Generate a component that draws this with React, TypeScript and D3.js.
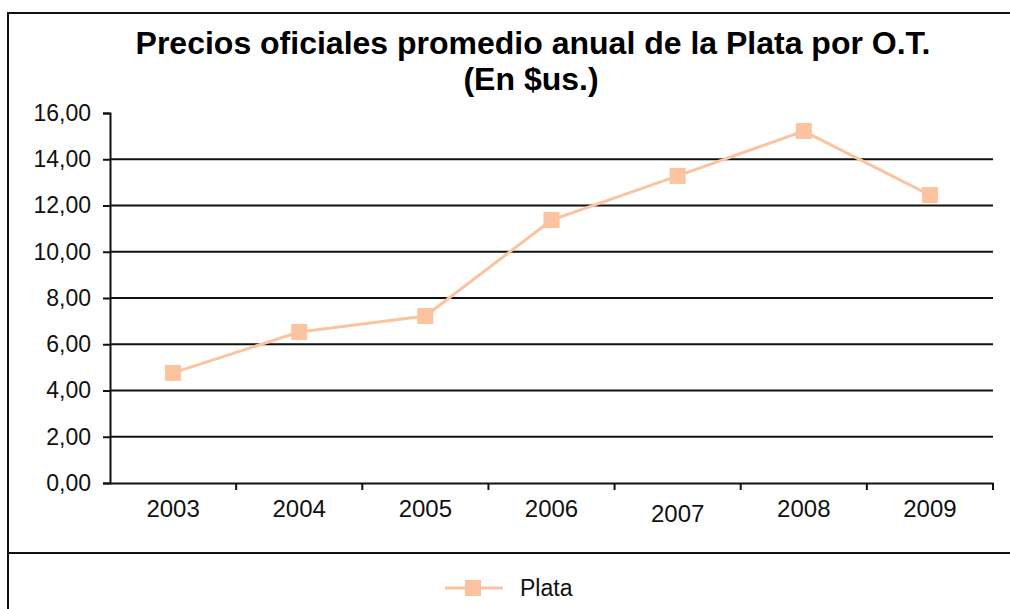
import * as d3 from "d3";
import { useEffect, useRef } from "react";

const years = ["2003", "2004", "2005", "2006", "2007", "2008", "2009"];
const plata = [4.76, 6.53, 7.22, 11.37, 13.28, 15.22, 12.45];
const yTicks = [0, 2, 4, 6, 8, 10, 12, 14, 16];

const App = () => {
  const svgRef = useRef<SVGSVGElement>(null);

  useEffect(() => {
    const width = 1010;
    const height = 609;
    const font = "'Liberation Sans', Arial, sans-serif";
    const lineColor = "#fbc3a0";

    const svg = d3.select(svgRef.current);
    svg.selectAll("*").remove();
    svg.attr("width", width).attr("height", height).style("font-family", font);

    // frame + legend separator
    svg
      .append("rect")
      .attr("x", 8)
      .attr("y", 13)
      .attr("width", 1010)
      .attr("height", 620)
      .attr("fill", "white")
      .attr("stroke", "#111")
      .attr("stroke-width", 2);
    svg
      .append("line")
      .attr("x1", 8)
      .attr("x2", 1012)
      .attr("y1", 553)
      .attr("y2", 553)
      .attr("stroke", "#111")
      .attr("stroke-width", 2);

    // title, two separate lines
    const titleLines = [
      { text: "Precios oficiales promedio anual de la Plata por O.T.", x: 533, y: 54 },
      { text: "(En $us.)", x: 531, y: 90 },
    ];
    svg
      .append("g")
      .selectAll("text")
      .data(titleLines)
      .join("text")
      .attr("text-anchor", "middle")
      .attr("font-weight", "bold")
      .attr("font-size", 32)
      .attr("fill", "#000")
      .attr("x", (d) => d.x)
      .attr("y", (d) => d.y)
      .text((d) => d.text);

    const x = d3.scaleBand().domain(years).range([110, 993]);
    const y = d3.scaleLinear().domain([0, 16]).range([483, 113]);

    // gridlines
    svg
      .append("g")
      .selectAll("line")
      .data(yTicks.filter((t) => t > 0 && t < 16))
      .join("line")
      .attr("x1", 110)
      .attr("x2", 993)
      .attr("y1", (d) => y(d))
      .attr("y2", (d) => y(d))
      .attr("stroke", "#111")
      .attr("stroke-width", 2);

    // y axis
    const yAxis = svg
      .append("g")
      .attr("transform", "translate(110,0)")
      .call(
        d3
          .axisLeft(y)
          .tickValues(yTicks)
          .tickSize(7)
          .tickPadding(12)
          .tickFormat((d) => d3.format(".2f")(d as number).replace(".", ","))
      );
    yAxis.select(".domain").attr("stroke", "#111").attr("stroke-width", 2);
    yAxis.selectAll(".tick line").attr("stroke", "#111").attr("stroke-width", 2);
    yAxis
      .selectAll(".tick text")
      .attr("font-size", 23)
      .attr("font-family", font)
      .attr("fill", "#111");

    // x axis
    const xAxis = svg
      .append("g")
      .attr("transform", "translate(0,483)")
      .call(d3.axisBottom(x).tickSize(0).tickPadding(0));
    xAxis.select(".domain").attr("stroke", "#111").attr("stroke-width", 2);
    xAxis
      .selectAll(".tick text")
      .attr("font-size", 24)
      .attr("font-family", font)
      .attr("fill", "#111")
      .attr("dy", 0)
      .attr("y", (d) => (d === "2007" ? 39 : 34));
    xAxis
      .append("g")
      .selectAll("line")
      .data(years.slice(1).concat("end"))
      .join("line")
      .attr("x1", (d) => (d === "end" ? x.range()[1] : (x(d) as number)))
      .attr("x2", (d) => (d === "end" ? x.range()[1] : (x(d) as number)))
      .attr("y1", 0)
      .attr("y2", 7)
      .attr("stroke", "#111")
      .attr("stroke-width", 2);

    // series
    const cx = (i: number) => (x(years[i]) as number) + x.bandwidth() / 2;
    const line = d3
      .line<number>()
      .x((_, i) => cx(i))
      .y((d) => y(d));
    svg
      .append("path")
      .datum(plata)
      .attr("d", line)
      .attr("fill", "none")
      .attr("stroke", lineColor)
      .attr("stroke-width", 3);
    const ms = 16;
    svg
      .append("g")
      .selectAll("rect")
      .data(plata)
      .join("rect")
      .attr("x", (_, i) => cx(i) - ms / 2)
      .attr("y", (d) => y(d) - ms / 2)
      .attr("width", ms)
      .attr("height", ms)
      .attr("fill", lineColor);

    // legend
    const lg = svg.append("g").attr("transform", "translate(445,588)");
    lg.append("line").attr("x1", 0).attr("x2", 58).attr("y1", 0).attr("y2", 0).attr("stroke", lineColor).attr("stroke-width", 3);
    lg.append("rect").attr("x", 28 - ms / 2).attr("y", -ms / 2).attr("width", ms).attr("height", ms).attr("fill", lineColor);
    lg.append("text")
      .attr("x", 75)
      .attr("y", 8)
      .attr("font-size", 23)
      .attr("fill", "#111")
      .text("Plata");
  }, []);

  return (
    <svg
      ref={svgRef}
      style={{ position: "absolute", left: 0, top: 0, display: "block" }}
    ></svg>
  );
};

export default App;
